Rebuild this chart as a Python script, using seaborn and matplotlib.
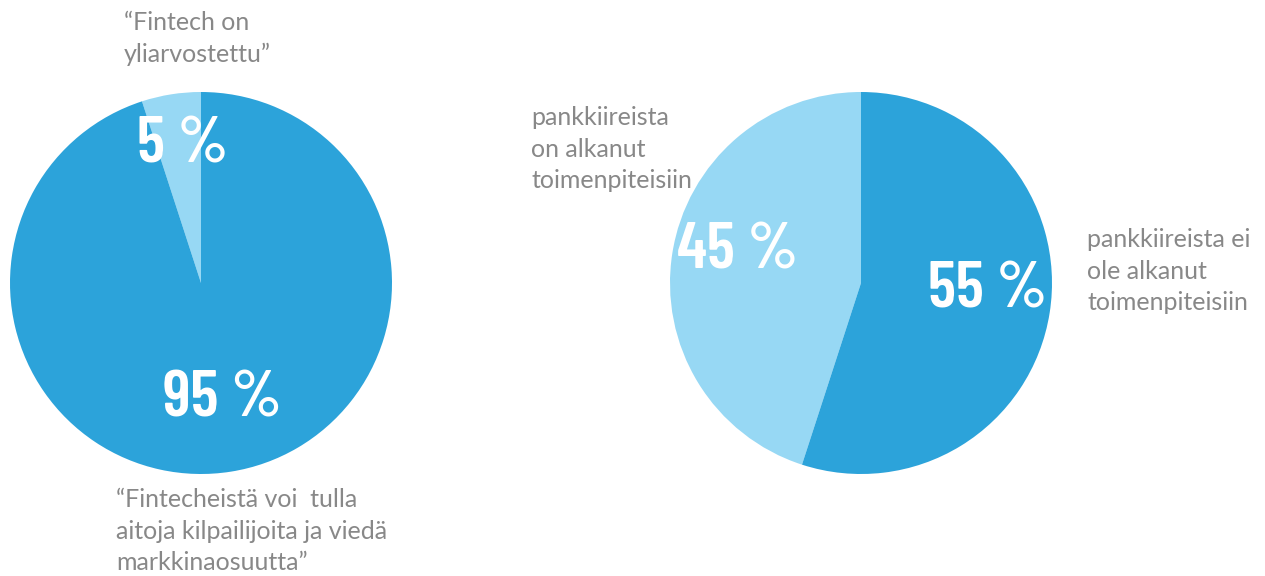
import matplotlib
matplotlib.use("Agg")
import matplotlib.pyplot as plt
import seaborn as sns

# values
left_labels = ["“Fintech on\nyliarvostettu”",
               "“Fintecheistä voi  tulla\naitoja kilpailijoita ja viedä\nmarkkinaosuutta”"]
left_values = [5, 95]
right_labels = ["pankkiireista\non alkanut\ntoimenpiteisiin",
                "pankkiireista ei\nole alkanut\ntoimenpiteisiin"]
right_values = [45, 55]

light = "#97d8f4"
dark = "#2ca3da"
gray = "#888888"

sns.set_theme(style="white")
plt.rcParams["font.family"] = ["Lato", "DejaVu Sans"]

W, H = 1265, 576
fig = plt.figure(figsize=(W / 100, H / 100), dpi=100)


def px(x, y):
    # pixel position (from top-left) -> figure fraction
    return x / W, 1 - y / H


def pie_axes(cx, cy, r):
    ax = fig.add_axes([(cx - r) / W, 1 - (cy + r) / H, 2 * r / W, 2 * r / H])
    return ax


def draw_pie(ax, values):
    ax.pie(values, colors=[light, dark], startangle=90, counterclock=True,
           radius=1, wedgeprops=dict(linewidth=0))
    ax.set_xlim(-1, 1)
    ax.set_ylim(-1, 1)
    ax.set_aspect("equal")
    ax.axis("off")


ax1 = pie_axes(201, 283, 191)
draw_pie(ax1, left_values)
ax2 = pie_axes(861, 283, 191)
draw_pie(ax2, right_values)

pct_style = dict(color="white", fontsize=47, fontweight="semibold",
                 family=["Barlow Condensed", "Oswald", "DejaVu Sans"],
                 ha="center", va="center")
fig.text(*px(183, 146), f"{left_values[0]} %", **pct_style)
fig.text(*px(222, 400), f"{left_values[1]} %", **pct_style)
fig.text(*px(738, 252), f"{right_values[0]} %", **pct_style)
fig.text(*px(988, 291), f"{right_values[1]} %", **pct_style)

txt_style = dict(color=gray, fontsize=18, ha="left", va="top", linespacing=1.45)
fig.text(*px(124, 11), left_labels[0], **txt_style)
fig.text(*px(116, 488), left_labels[1], **txt_style)
fig.text(*px(531, 106), right_labels[0], **txt_style)
fig.text(*px(1087, 228), right_labels[1], **txt_style)

fig.savefig("out.png", dpi=100)
